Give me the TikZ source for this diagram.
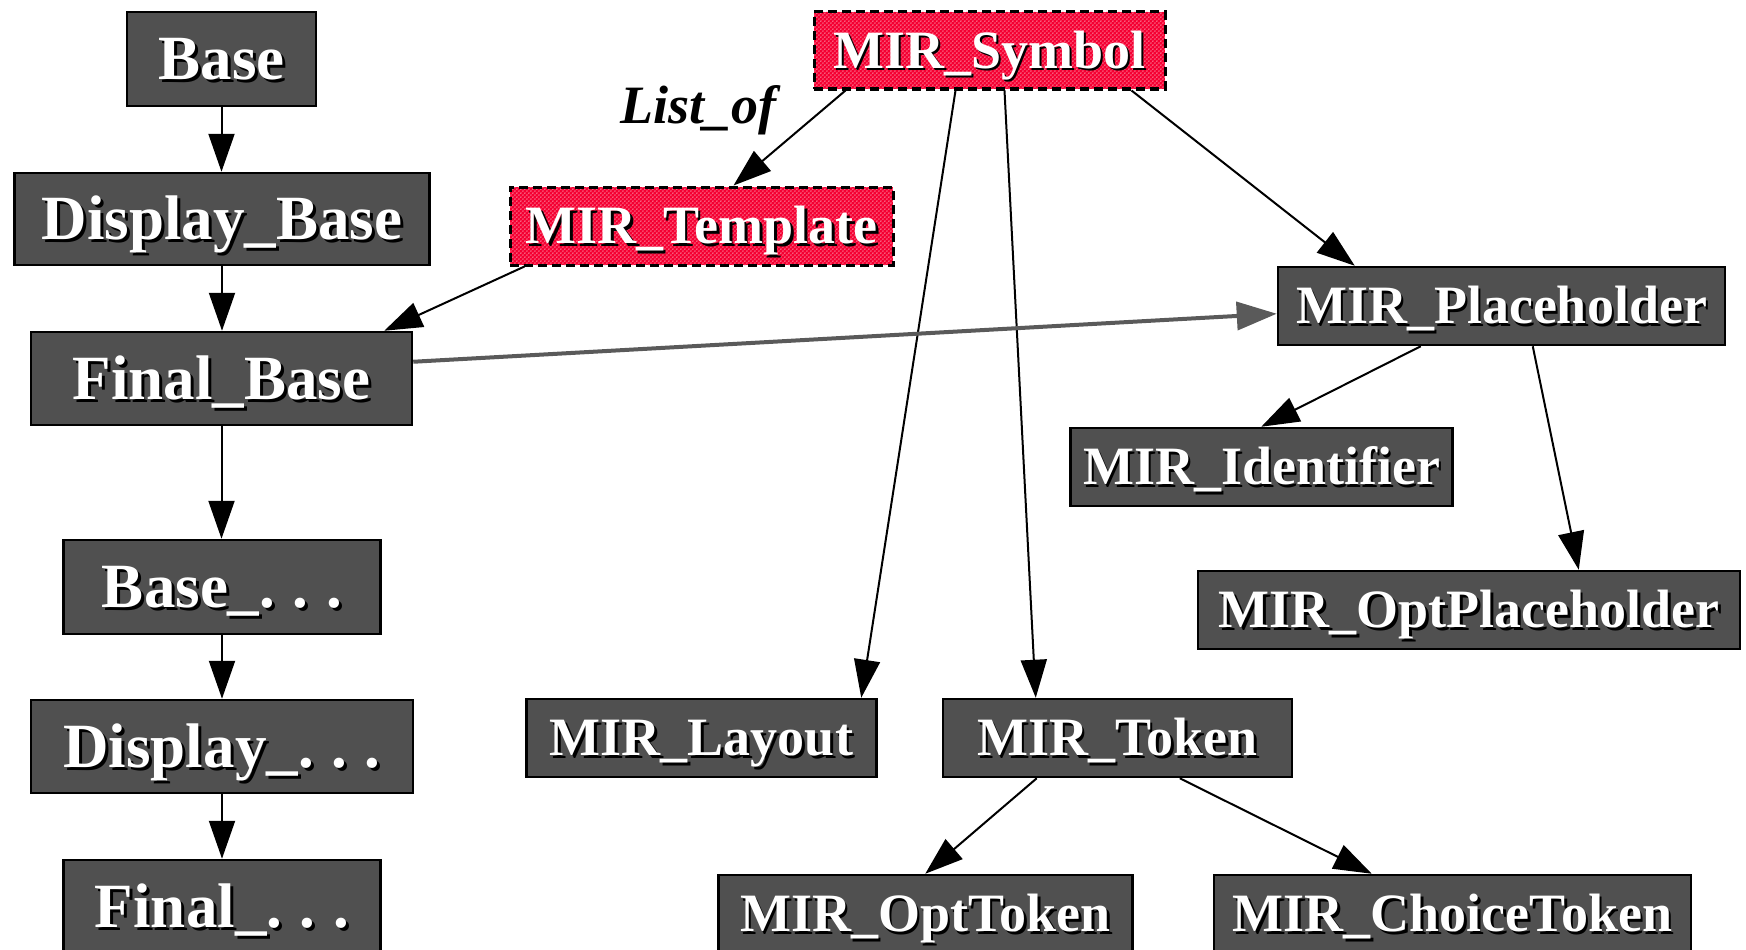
\documentclass[tikz,border=0pt]{standalone}
\usepackage{fontspec}
\setmainfont{Liberation Serif}
\usetikzlibrary{arrows.meta,calc,patterns.meta}
\definecolor{boxfill}{RGB}{80,80,80}
\definecolor{symred}{RGB}{245,0,50}
\definecolor{edgegray}{RGB}{90,90,90}
\newcommand\shadowtxt[2]{\leavevmode\rlap{\kern#1\raisebox{-#1}{\color{black}#2}}{\color{white}#2}}
\tikzdeclarepattern{name=whitedots, type=uncolored,
  bounding box={(0pt,0pt) and (4.4pt,4.4pt)}, tile size={(4.4pt,4.4pt)},
  code={\fill (1.1pt,1.1pt) circle (0.8pt); \fill (3.3pt,3.3pt) circle (0.8pt);}}
\tikzset{
  boxbase/.style={draw=black, line width=2.5pt, inner sep=0pt, text depth=0pt},
  bigbox/.style={boxbase, fill=boxfill, font=\fontsize{63pt}{70pt}\selectfont\bfseries, text height=41.5pt},
  smallbox/.style={boxbase, fill=boxfill, font=\fontsize{54pt}{60pt}\selectfont\bfseries, text height=35.5pt},
  redbox/.style={boxbase, line width=3pt, font=\fontsize{54pt}{60pt}\selectfont\bfseries, text height=35.5pt,
    dash pattern=on 9pt off 5pt, preaction={fill=symred},
    pattern={whitedots}, pattern color=white!75!symred},
  edge/.style={line width=2pt, draw=black, -{Triangle[length=38pt,width=26pt]}},
  grayedge/.style={line width=4pt, draw=edgegray, -{Triangle[length=40pt,width=28pt]}},
  lbl/.style={font=\fontsize{54pt}{60pt}\selectfont\bfseries\itshape, anchor=base west, inner sep=0pt}
}
\begin{document}
\begin{tikzpicture}[x=1pt,y=-1pt]
\useasboundingbox (0,0) rectangle (1746,950);
% left column
\node[bigbox, minimum width=189, minimum height=94] (base) at (221.5,59) {\shadowtxt{3pt}{Base}};
\node[bigbox, minimum width=415, minimum height=92] (dbase) at (222,219) {\shadowtxt{3pt}{Display\_Base}};
\node[bigbox, minimum width=381, minimum height=93] (fbase) at (221.5,378.5) {\shadowtxt{3pt}{Final\_Base}};
\node[bigbox, minimum width=317, minimum height=94] (bdots) at (222,587) {\shadowtxt{3pt}{Base\_.\hspace{0.28em}.\hspace{0.28em}.}};
\node[bigbox, minimum width=382, minimum height=93] (ddots) at (222,746.5) {\shadowtxt{3pt}{Display\_.\hspace{0.28em}.\hspace{0.28em}.}};
\node[bigbox, minimum width=317, minimum height=93] (fdots) at (222,906.5) {\shadowtxt{3pt}{Final\_.\hspace{0.28em}.\hspace{0.28em}.}};
% red nodes
\node[redbox, minimum width=351, minimum height=77] (sym) at (989.5,50.5) {\shadowtxt{2.5pt}{MIR\_Symbol}};
\node[redbox, minimum width=383, minimum height=78] (tmpl) at (701.5,226) {\shadowtxt{2.5pt}{MIR\_Template}};
% right nodes
\node[smallbox, minimum width=447, minimum height=78] (ph) at (1501.5,306) {\shadowtxt{2.5pt}{MIR\_Placeholder}};
\node[smallbox, minimum width=382, minimum height=78] (ident) at (1261.5,467) {\shadowtxt{2.5pt}{MIR\_Identifier}};
\node[smallbox, minimum width=542, minimum height=78] (optph) at (1469,610) {\shadowtxt{2.5pt}{MIR\_OptPlaceholder}};
\node[smallbox, minimum width=350, minimum height=78] (layout) at (701.5,738) {\shadowtxt{2.5pt}{MIR\_Layout}};
\node[smallbox, minimum width=349, minimum height=78] (token) at (1117.5,738) {\shadowtxt{2.5pt}{MIR\_Token}};
\node[smallbox, minimum width=414, minimum height=78] (opttok) at (925.5,914) {\shadowtxt{2.5pt}{MIR\_OptToken}};
\node[smallbox, minimum width=477, minimum height=78] (choice) at (1452.5,914) {\shadowtxt{2.5pt}{MIR\_ChoiceToken}};
% label
\node[lbl] (listof) at (620,123) {List\_of};
% left column edges
\draw[edge] (base.south) -- (base.south |- dbase.north);
\draw[edge] (dbase.south) -- (dbase.south |- fbase.north);
\draw[edge] (fbase.south) -- (fbase.south |- bdots.north);
\draw[edge] (bdots.south) -- (bdots.south |- ddots.north);
\draw[edge] (ddots.south) -- (ddots.south |- fdots.north);
% other edges
\draw[edge] ($(tmpl.south west)+(16,0)$) -- ($(fbase.north east)+(-29,0)$);
\draw[edge] ($(sym.south west)+(33,0)$) -- ($(tmpl.north west)+(225,0)$);
\draw[edge] ($(sym.south west)+(143,0)$) -- ($(layout.north west)+(336,0)$);
\draw[edge] ($(sym.south west)+(192,0)$) -- ($(token.north west)+(94,0)$);
\draw[edge] ($(sym.south west)+(319,0)$) -- ($(ph.north west)+(78,0)$);
\draw[grayedge] ($(fbase.north east)+(0,31)$) -- ($(ph.north west)+(0,48)$);
\draw[edge] ($(ph.south west)+(144,0)$) -- ($(ident.north west)+(192,0)$);
\draw[edge] ($(ph.south west)+(256,0)$) -- ($(optph.north west)+(382,0)$);
\draw[edge] ($(token.south west)+(95,0)$) -- ($(opttok.north west)+(208,0)$);
\draw[edge] ($(token.south west)+(238,0)$) -- ($(choice.north west)+(159,0)$);
\end{tikzpicture}
\end{document}
